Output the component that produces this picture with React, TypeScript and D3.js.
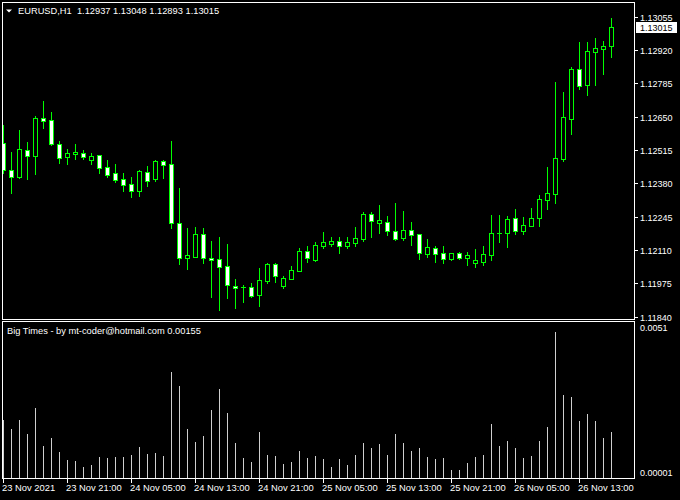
import React from "react";
import * as d3 from "d3";

const symbol = "EURUSD,H1";
const indicatorName = "Big Times - by mt-coder@hotmail.com";

const openP = [
  1.12542, 1.12434, 1.12404, 1.12514, 1.12492, 1.12643, 1.12635, 1.12538, 1.12488, 1.125,
  1.12502, 1.12476, 1.12494, 1.12445, 1.12422, 1.12398, 1.12376, 1.1235, 1.12426, 1.12399,
  1.12471, 1.12458, 1.12218, 1.12079, 1.12083, 1.12174, 1.12078, 1.12072, 1.12044, 1.11965,
  1.1196, 1.1196, 1.11929, 1.11986, 1.12052, 1.11965, 1.11994, 1.12026, 1.12105, 1.1207,
  1.12126, 1.12136, 1.12147, 1.12127, 1.1214, 1.12155, 1.12256, 1.12221, 1.12223, 1.12187,
  1.12159, 1.12191, 1.12175, 1.12095, 1.12118, 1.12098, 1.12075, 1.12098, 1.12079, 1.12059,
  1.12063, 1.12091, 1.12178, 1.12178, 1.12238, 1.12188, 1.12208, 1.12241, 1.12314, 1.12336,
  1.1248, 1.12642, 1.12842, 1.1278, 1.12913, 1.12925, 1.12937,
];
const highP = [
  1.12616, 1.12507, 1.12596, 1.12547, 1.12653, 1.12714, 1.12669, 1.12552, 1.12518, 1.12539,
  1.12515, 1.12502, 1.12495, 1.12475, 1.12458, 1.12422, 1.12404, 1.12434, 1.1245, 1.12475,
  1.12475, 1.12552, 1.12361, 1.12199, 1.12203, 1.12199, 1.12147, 1.12163, 1.12134, 1.11993,
  1.11967, 1.11975, 1.12037, 1.12056, 1.12056, 1.12006, 1.12046, 1.12117, 1.12126, 1.12142,
  1.12183, 1.12163, 1.12163, 1.12163, 1.12203, 1.12264, 1.12264, 1.12292, 1.12248, 1.123,
  1.12268, 1.12223, 1.12176, 1.12155, 1.12126, 1.12126, 1.12099, 1.12102, 1.12102, 1.12114,
  1.12126, 1.12252, 1.12252, 1.12248, 1.12276, 1.12244, 1.1228, 1.12332, 1.12446, 1.1279,
  1.1275, 1.1285, 1.12952, 1.12952, 1.12969, 1.12957, 1.13048,
];
const lowP = [
  1.12421, 1.12342, 1.12402, 1.12399, 1.12418, 1.12605, 1.12535, 1.12464, 1.12458, 1.1248,
  1.12479, 1.12457, 1.12423, 1.12407, 1.12387, 1.1235, 1.12326, 1.12329, 1.12369, 1.12391,
  1.12402, 1.122, 1.12055, 1.12034, 1.12082, 1.12059, 1.11921, 1.11867, 1.11917, 1.11876,
  1.11901, 1.11921, 1.11884, 1.11978, 1.11982, 1.11957, 1.11991, 1.12025, 1.1206, 1.12067,
  1.12118, 1.12127, 1.12098, 1.12119, 1.12127, 1.12147, 1.12163, 1.12179, 1.12171, 1.12151,
  1.12151, 1.12132, 1.12075, 1.12083, 1.12063, 1.12059, 1.12071, 1.12075, 1.12051, 1.12042,
  1.12049, 1.1207, 1.12144, 1.12123, 1.12176, 1.12176, 1.12207, 1.12208, 1.12276, 1.12302,
  1.12472, 1.12581, 1.12763, 1.12739, 1.1278, 1.12824, 1.12893,
];
const closeP = [
  1.12434, 1.12407, 1.12518, 1.12492, 1.12643, 1.12634, 1.12541, 1.12484, 1.12503, 1.12507,
  1.12488, 1.12491, 1.12443, 1.12415, 1.12394, 1.12375, 1.1235, 1.1243, 1.12391, 1.12471,
  1.12456, 1.12221, 1.12079, 1.12089, 1.12174, 1.12079, 1.12068, 1.12042, 1.11967, 1.11957,
  1.1196, 1.11925, 1.11987, 1.12053, 1.12006, 1.11995, 1.12028, 1.12105, 1.12076, 1.1213,
  1.12142, 1.12147, 1.12127, 1.12142, 1.12159, 1.12256, 1.12229, 1.12232, 1.12188, 1.12156,
  1.12191, 1.12172, 1.12099, 1.12122, 1.12094, 1.12075, 1.12098, 1.12079, 1.1209, 1.1207,
  1.12094, 1.12178, 1.12178, 1.12234, 1.12188, 1.1221, 1.12238, 1.12315, 1.1234, 1.12481,
  1.12647, 1.12842, 1.12775, 1.12915, 1.12927, 1.12935, 1.13015,
];

const priceTicks = [1.1184, 1.11975, 1.1211, 1.12245, 1.1238, 1.12515, 1.1265, 1.12785, 1.1292, 1.13055];
const timeLabels = [
  "23 Nov 2021", "23 Nov 21:00", "24 Nov 05:00", "24 Nov 13:00", "24 Nov 21:00",
  "25 Nov 05:00", "25 Nov 13:00", "25 Nov 21:00", "26 Nov 05:00", "26 Nov 13:00",
];
const timeLabelBars = [0, 8, 16, 24, 32, 40, 48, 56, 64, 72];
const subMax = 0.0051;
const subMin = 0.00001;
const subLabels = ["0.0051", "0.00001"];

const GREEN = "#00ff00";
const FONT = "'Liberation Sans', Arial, sans-serif";

export default function App() {
  const n = openP.length;
  const x = d3.scaleLinear().domain([0, n - 1]).range([3, 3 + 8 * (n - 1)]);
  const y = d3.scaleLinear().domain([1.1184, 1.13055]).range([316.67, 16.67]);
  const yh = d3.scaleLinear().domain([subMin, subMax]).range([478, 325]);
  const ranges = highP.map((h, i) => h - lowP[i]);
  const last = n - 1;
  const bid = closeP[last];
  const fmt = (v: number) => v.toFixed(5);

  return (
    <svg
      width={680}
      height={500}
      style={{ position: "fixed", left: 0, top: 0, display: "block" }}
      fontFamily={FONT}
    >
      <defs>
        <clipPath id="mainClip">
          <rect x={3} y={3} width={631} height={316} />
        </clipPath>
        <clipPath id="subClip">
          <rect x={3} y={322} width={631} height={156} />
        </clipPath>
      </defs>
      <rect x={0} y={0} width={680} height={500} fill="#000" />

      {/* main candles */}
      <g clipPath="url(#mainClip)" shapeRendering="crispEdges">
        {openP.map((o, i) => {
          const c = closeP[i];
          const cx = Math.round(x(i));
          const yH = Math.round(y(highP[i]));
          const yL = Math.round(y(lowP[i]));
          const top = Math.round(y(Math.max(o, c)));
          const bot = Math.round(y(Math.min(o, c)));
          const bull = c >= o;
          return (
            <g key={i}>
              <rect x={cx} y={yH} width={1} height={yL - yH + 1} fill={GREEN} />
              {bot - top < 1 ? (
                <rect x={cx - 2} y={top} width={5} height={1} fill={GREEN} />
              ) : (
                <g>
                  <rect x={cx - 2} y={top} width={5} height={bot - top + 1} fill={GREEN} />
                  {bot - top >= 2 && (
                    <rect
                      x={cx - 1}
                      y={top + 1}
                      width={3}
                      height={bot - top - 1}
                      fill={bull ? "#000" : "#fff"}
                    />
                  )}
                </g>
              )}
            </g>
          );
        })}
      </g>

      {/* histogram */}
      <g clipPath="url(#subClip)" shapeRendering="crispEdges">
        {ranges.map((v, i) => {
          const cx = Math.round(x(i));
          const t = Math.round(yh(v));
          return <rect key={i} x={cx} y={t} width={1} height={478 - t} fill="#cfcfcf" />;
        })}
      </g>

      {/* frames */}
      <g stroke="#fff" strokeWidth={1} fill="none" shapeRendering="crispEdges">
        <rect x={2.5} y={2.5} width={632} height={317} />
        <rect x={2.5} y={321.5} width={632} height={157} />
      </g>

      {/* header */}
      <path d="M6,9.5 L12,9.5 L9,12.5 Z" fill="#fff" />
      <text x={18} y={14} fontSize={9.3} fill="#fff" style={{ whiteSpace: "pre" }}>
        {`${symbol}  ${fmt(openP[last])} ${fmt(highP[last])} ${fmt(lowP[last])} ${fmt(closeP[last])}`}
      </text>

      {/* price axis */}
      {priceTicks.map((p, i) => {
        const ty = Math.round(y(p));
        return (
          <g key={i}>
            <rect x={635} y={ty} width={3} height={1} fill="#fff" />
            <text x={640} y={ty + 3.6} fontSize={9} fill="#fff">
              {p.toFixed(5)}
            </text>
          </g>
        );
      })}
      {(() => {
        const by = Math.round(y(bid));
        return (
          <g>
            <rect x={636} y={by - 5} width={41} height={11} fill="#fff" />
            <text x={640} y={by + 3.6} fontSize={9} fill="#000">
              {bid.toFixed(5)}
            </text>
          </g>
        );
      })()}

      {/* sub window labels */}
      <text x={7} y={334} fontSize={9.3} fill="#fff">
        {`${indicatorName} ${fmt(ranges[last])}`}
      </text>
      <text x={640} y={331} fontSize={9} fill="#fff">
        {subLabels[0]}
      </text>
      <text x={640} y={476} fontSize={9} fill="#fff">
        {subLabels[1]}
      </text>

      {/* time axis */}
      {timeLabelBars.map((b, i) => {
        const cx = Math.round(x(b));
        return (
          <g key={i}>
            <rect x={cx} y={479} width={1} height={4} fill="#fff" />
            <text x={cx - 1} y={491} fontSize={9.4} fill="#fff">
              {timeLabels[i]}
            </text>
          </g>
        );
      })}
    </svg>
  );
}
